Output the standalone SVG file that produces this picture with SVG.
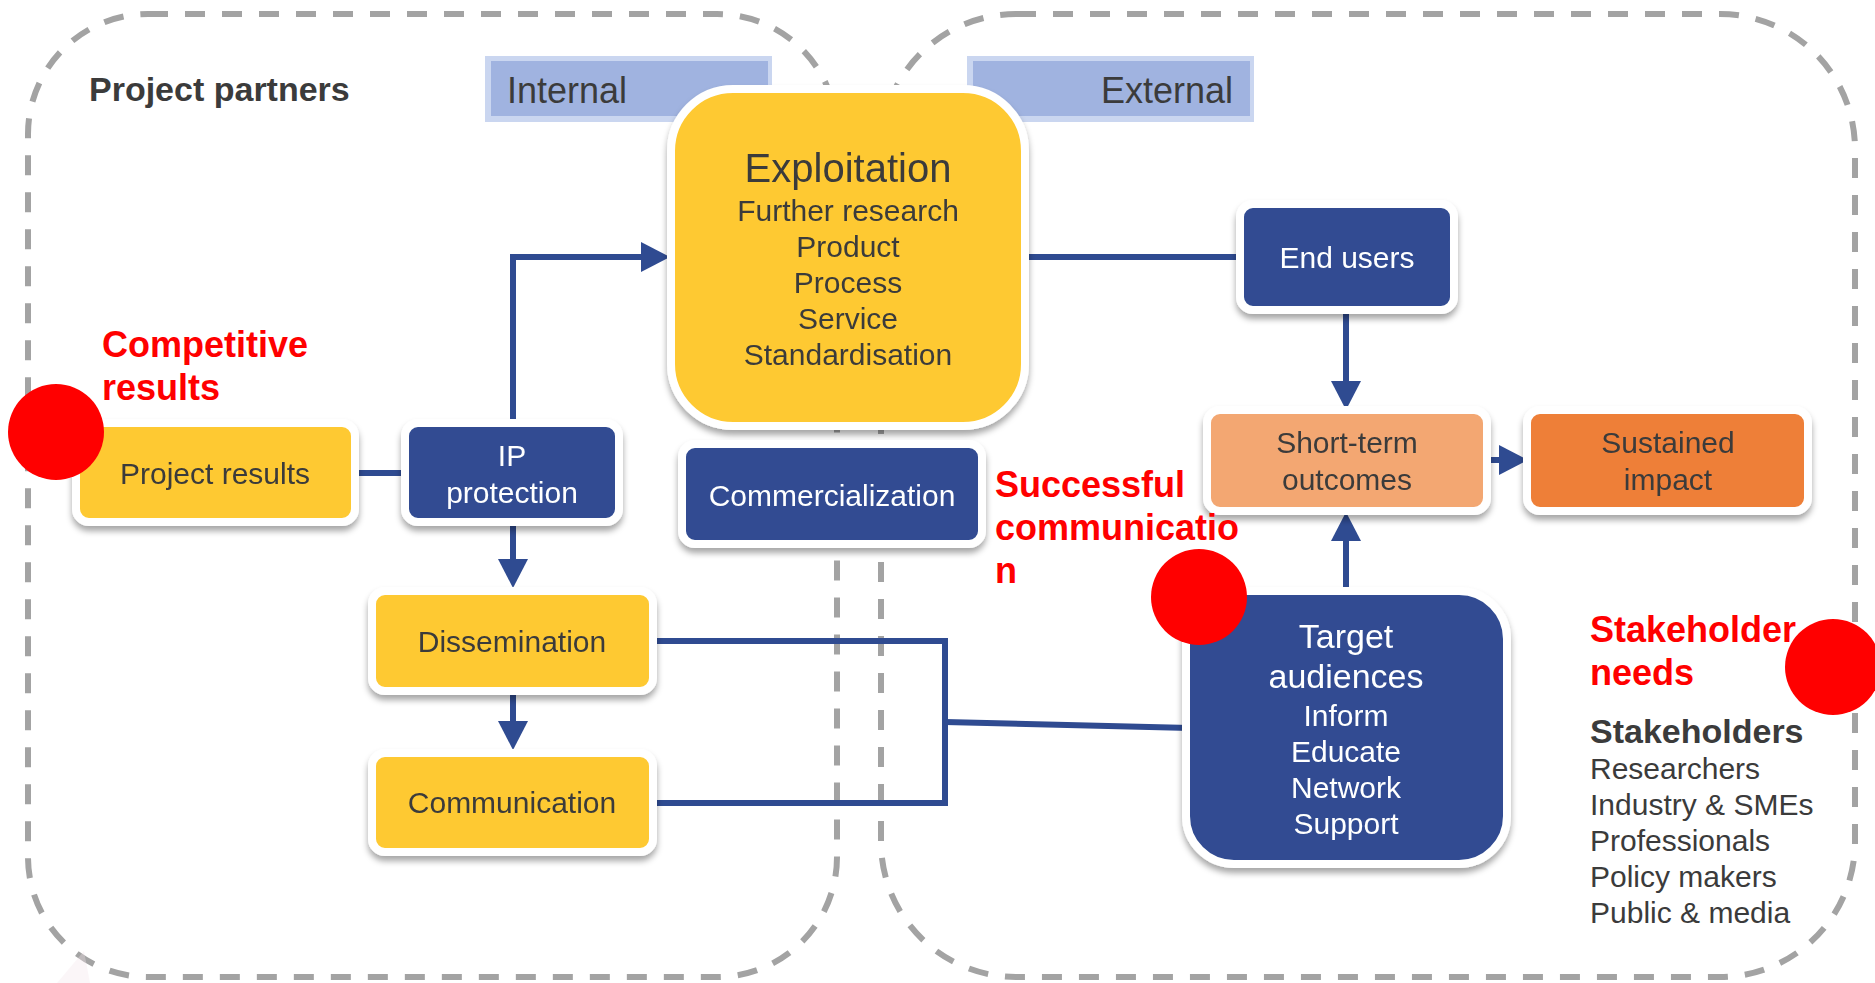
<svg xmlns="http://www.w3.org/2000/svg" width="1875" height="983" viewBox="0 0 1875 983">
<defs>
<style>
text{font-family:"Liberation Sans",Arial,sans-serif;}
.cont{fill:none;stroke:#a3a3a3;stroke-width:6;stroke-dasharray:20 17;}
.box{stroke:#ffffff;stroke-width:8;}
.yel{fill:#fec932;}
.blu{fill:#304c92;}
.lor{fill:#f3a772;}
.dor{fill:#ee7f37;}
.dk{fill:#3b3b3b;font-size:30px;text-anchor:middle;}
.wt{fill:#ffffff;font-size:30px;text-anchor:middle;}
.big{font-size:40px;}
.s34{font-size:34px;}
.red{fill:#ff0000;font-size:36px;font-weight:bold;}
.con{fill:none;stroke:#2f4b91;stroke-width:6;}
.dot{fill:#ff0000;}
.lab{fill:#3b3b3b;font-size:36px;}
</style>
<filter id="sh" x="-10%" y="-10%" width="120%" height="130%">
<feDropShadow dx="0" dy="5" stdDeviation="3" flood-color="#000000" flood-opacity="0.35"/>
</filter>
<marker id="arr" markerUnits="userSpaceOnUse" markerWidth="30" markerHeight="30" viewBox="0 0 30 30" refX="0" refY="15" orient="auto">
<path d="M0,0 L29,15 L0,30 Z" fill="#2f4b91"/>
</marker>
</defs>
<rect width="1875" height="983" fill="#ffffff"/>

<g id="containers">
<rect class="cont" x="28" y="14" width="809" height="963" rx="120" ry="120"/>
<rect class="cont" x="881" y="14" width="974" height="963" rx="135" ry="135"/>
<polygon points="57,983 84,951 90,983" fill="#f4e6ec" opacity="0.35"/>
</g>

<g id="label-internal">
<rect x="485" y="56" width="287" height="66" fill="#cad6f0"/>
<rect x="491" y="61" width="277" height="55" fill="#a0b3e0"/>
<text class="lab" x="507" y="103">Internal</text>
</g>
<g id="label-external">
<rect x="967" y="56" width="287" height="66" fill="#cad6f0"/>
<rect x="973" y="61" width="277" height="55" fill="#a0b3e0"/>
<text class="lab" x="1233" y="103" text-anchor="end">External</text>
</g>

<text id="project-partners" x="89" y="101" fill="#3b3b3b" font-size="34" font-weight="bold">Project partners</text>

<g id="connectors">
<line class="con" x1="355" y1="473" x2="405" y2="473"/>
<path class="con" d="M513,423 V257 H641" marker-end="url(#arr)"/>
<path class="con" d="M513,522 V559" marker-end="url(#arr)"/>
<path class="con" d="M513,691 V721" marker-end="url(#arr)"/>
<line class="con" x1="1021" y1="257" x2="1244" y2="257"/>
<path class="con" d="M1346,310 V381" marker-end="url(#arr)"/>
<path class="con" d="M1346,591 V541" marker-end="url(#arr)"/>
<path class="con" d="M1487,460 H1499" marker-end="url(#arr)"/>
<path class="con" d="M652,641 H945 V803 H652"/>
<line class="con" x1="945" y1="722" x2="1190" y2="728"/>
</g>

<g id="exploitation" filter="url(#sh)">
<rect class="box yel" x="671" y="89" width="354" height="337" rx="62" ry="62"/>
<text class="dk big" x="848" y="182">Exploitation</text>
<text class="dk" x="848" y="221">Further research</text>
<text class="dk" x="848" y="257">Product</text>
<text class="dk" x="848" y="293">Process</text>
<text class="dk" x="848" y="329">Service</text>
<text class="dk" x="848" y="365">Standardisation</text>
</g>

<g id="project-results" filter="url(#sh)">
<rect class="box yel" x="76" y="423" width="279" height="99" rx="13" ry="13"/>
<text class="dk" x="215" y="484">Project results</text>
</g>

<g id="ip-protection" filter="url(#sh)">
<rect class="box blu" x="405" y="423" width="214" height="99" rx="13" ry="13"/>
<text class="wt" x="512" y="466">IP</text>
<text class="wt" x="512" y="503">protection</text>
</g>

<g id="commercialization" filter="url(#sh)">
<rect class="box blu" x="682" y="444" width="300" height="100" rx="13" ry="13"/>
<text class="wt" x="832" y="506">Commercialization</text>
</g>

<g id="dissemination" filter="url(#sh)">
<rect class="box yel" x="372" y="591" width="281" height="100" rx="13" ry="13"/>
<text class="dk" x="512" y="652">Dissemination</text>
</g>

<g id="communication" filter="url(#sh)">
<rect class="box yel" x="372" y="753" width="281" height="99" rx="13" ry="13"/>
<text class="dk" x="512" y="813">Communication</text>
</g>

<g id="end-users" filter="url(#sh)">
<rect class="box blu" x="1240" y="204" width="214" height="106" rx="13" ry="13"/>
<text class="wt" x="1347" y="268">End users</text>
</g>

<g id="short-term-outcomes" filter="url(#sh)">
<rect class="box lor" x="1207" y="410" width="280" height="101" rx="13" ry="13"/>
<text class="dk" x="1347" y="453">Short-term</text>
<text class="dk" x="1347" y="490">outcomes</text>
</g>

<g id="sustained-impact" filter="url(#sh)">
<rect class="box dor" x="1527" y="410" width="281" height="101" rx="13" ry="13"/>
<text class="dk" x="1668" y="453">Sustained</text>
<text class="dk" x="1668" y="490">impact</text>
</g>

<g id="target-audiences" filter="url(#sh)">
<rect class="box blu" x="1186" y="591" width="321" height="273" rx="48" ry="48"/>
<text class="wt s34" x="1346" y="648">Target</text>
<text class="wt s34" x="1346" y="688">audiences</text>
<text class="wt" x="1346" y="726">Inform</text>
<text class="wt" x="1346" y="762">Educate</text>
<text class="wt" x="1346" y="798">Network</text>
<text class="wt" x="1346" y="834">Support</text>
</g>

<g id="stakeholders">
<text x="1590" y="743" fill="#3b3b3b" font-size="34" font-weight="bold">Stakeholders</text>
<text x="1590" y="779" fill="#3b3b3b" font-size="30">Researchers</text>
<text x="1590" y="815" fill="#3b3b3b" font-size="30">Industry &amp; SMEs</text>
<text x="1590" y="851" fill="#3b3b3b" font-size="30">Professionals</text>
<text x="1590" y="887" fill="#3b3b3b" font-size="30">Policy makers</text>
<text x="1590" y="923" fill="#3b3b3b" font-size="30">Public &amp; media</text>
</g>

<g id="red-labels">
<text class="red" x="102" y="357">Competitive</text>
<text class="red" x="102" y="400">results</text>
<text class="red" x="995" y="497">Successful</text>
<text class="red" x="995" y="540">communicatio</text>
<text class="red" x="995" y="583">n</text>
<text class="red" x="1590" y="642">Stakeholder</text>
<text class="red" x="1590" y="685">needs</text>
</g>

<g id="red-dots">
<circle class="dot" cx="56" cy="432" r="48"/>
<circle class="dot" cx="1199" cy="597" r="48"/>
<circle class="dot" cx="1833" cy="667" r="48"/>
</g>
</svg>
